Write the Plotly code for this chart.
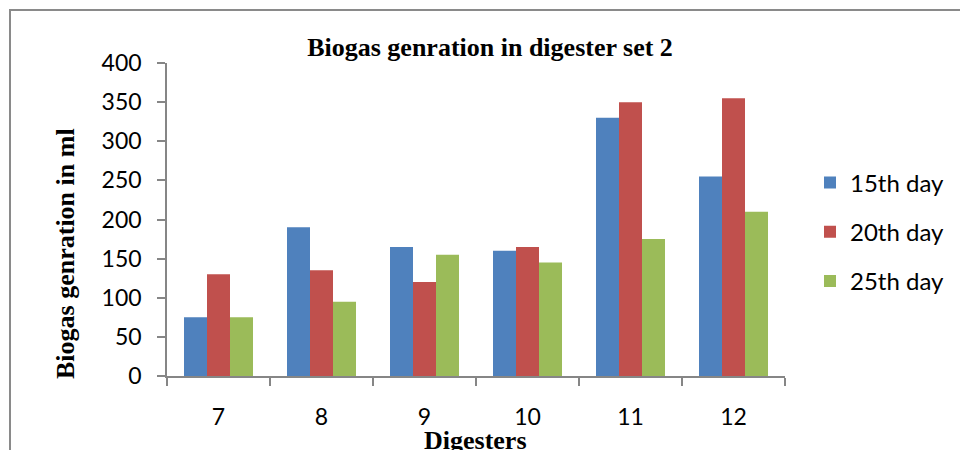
import plotly.graph_objects as go

digesters = ["7", "8", "9", "10", "11", "12"]
day15 = [75, 190, 165, 160, 330, 255]
day20 = [130, 135, 120, 165, 350, 355]
day25 = [75, 95, 155, 145, 175, 210]
series_names = ["15th day", "20th day", "25th day"]
colors = ["#4F81BD", "#C0504D", "#9BBB59"]

L, R, T, B = 167, 175, 63, 74
W, H = 960, 450
pw, ph = W - L - R, H - T - B

def px(x):
    return (x - L) / pw

def py(y):
    return (H - B - y) / ph

fig = go.Figure()
for name, vals, col in zip(series_names, [day15, day20, day25], colors):
    fig.add_trace(go.Bar(x=digesters, y=vals, name=name, marker_color=col,
                         marker_line_width=0, legendgroup=name))

axis_gray = "#868686"
tick_font = dict(family="Lato", size=23, color="#000000")
legend_font = dict(family="Lato", size=24, color="#000000")
serif = dict(family="Liberation Serif", size=26, color="#000000")

fig.update_layout(
    width=W, height=H,
    margin=dict(l=L, r=R, t=T, b=B, autoexpand=False),
    paper_bgcolor="white", plot_bgcolor="white",
    barmode="group", bargap=0.33, bargroupgap=0,
    showlegend=True,
    legend=dict(x=px(810), y=py(232), xanchor="left", yanchor="middle",
                font=legend_font, tracegroupgap=15, bgcolor="rgba(0,0,0,0)"),
    xaxis=dict(type="category", showline=True, linecolor=axis_gray, linewidth=1.5,
               ticks="outside", tickson="boundaries", ticklen=8, tickcolor=axis_gray,
               tickwidth=1.5, tickfont=tick_font, ticklabelstandoff=20,
               showgrid=False, zeroline=False),
    yaxis=dict(range=[0, 400], dtick=50, showline=True, linecolor=axis_gray, linewidth=1.5,
               ticks="outside", ticklen=8, tickcolor=axis_gray, tickwidth=1.5,
               tickfont=tick_font, ticklabelstandoff=11, showgrid=False, zeroline=False),
    title=dict(text="<b>Biogas genration in digester set 2</b>", font=serif,
               xref="container", x=490 / W, xanchor="center",
               yref="container", y=(H - 47) / H, yanchor="middle"),
    annotations=[
        dict(text="<b>Biogas genration in ml</b>", font=serif, textangle=-90,
             xref="paper", yref="paper", x=px(65), y=py(254),
             xanchor="center", yanchor="middle", showarrow=False),
        dict(text="<b>Digesters</b>", font=serif,
             xref="paper", yref="paper", x=px(475), y=py(440),
             xanchor="center", yanchor="middle", showarrow=False),
    ],
    shapes=[
        dict(type="path", xref="paper", yref="paper",
             path=f"M {px(10)},{py(470)} L {px(10)},{py(10)} L {px(980)},{py(10)}",
             line=dict(color="#8a8a8a", width=2)),
    ],
)

fig.write_html("out.html")
